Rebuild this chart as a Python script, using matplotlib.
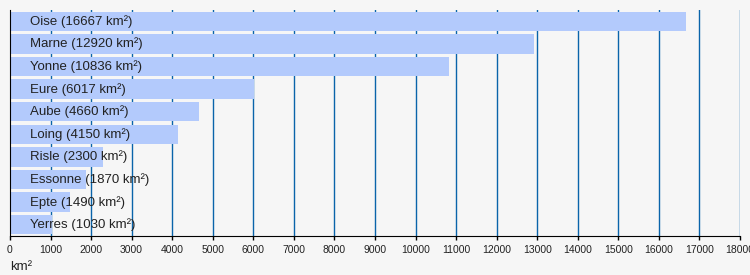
import matplotlib.pyplot as plt
import numpy as np

# Data
rivers = ['Oise', 'Marne', 'Yonne', 'Eure', 'Aube', 'Loing', 'Risle', 'Essonne', 'Epte', 'Yerres']
areas = [16667, 12920, 10836, 6017, 4660, 4150, 2300, 1870, 1490, 1030]
xticks = list(range(0, 18001, 1000))

plt.rcParams['font.family'] = ['Liberation Sans', 'DejaVu Sans']

fig = plt.figure(figsize=(7.5, 2.75), dpi=100, facecolor='#f6f6f6')
ax = fig.add_axes([0.0133, 0.1418, 0.9734, 0.8218])
ax.set_facecolor('#f6f6f6')

y = np.arange(len(rivers))

# grid lines behind the bars
for t in xticks[1:]:
    ax.axvline(t, color='#0a64aa', lw=1.0, zorder=1)

ax.barh(y, areas, height=0.86, color='#b3cafc', zorder=2)

for yi, name, a in zip(y, rivers, areas):
    ax.annotate(f'{name} ({a} km²)', xy=(0, yi), xytext=(14.5, 0),
                textcoords='offset points', va='center', ha='left',
                fontsize=9.5, color='#222222', zorder=3)

ax.set_xlim(0, 18000)
ax.set_ylim(len(rivers) - 0.5, -0.5)
ax.set_xticks(xticks)
ax.set_xticklabels([str(t) for t in xticks], fontsize=7.5, color='#222222')
ax.set_yticks([])
ax.tick_params(axis='x', direction='out', length=3, width=1, pad=3.5)

for side in ['top', 'right']:
    ax.spines[side].set_visible(False)
ax.spines['left'].set_color('black')
ax.spines['bottom'].set_color('black')

fig.text(0.0133, 0.018, 'km²', fontsize=9.5, color='#222222', ha='left', va='baseline')

fig.savefig('out.png', dpi=100, facecolor=fig.get_facecolor())
